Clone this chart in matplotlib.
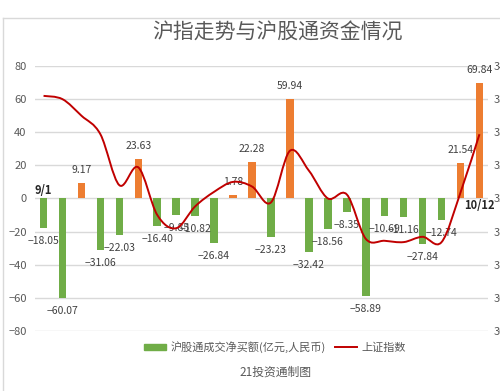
import matplotlib
matplotlib.use('Agg')
import matplotlib.pyplot as plt
import numpy as np
from matplotlib.path import Path
from matplotlib.patches import PathPatch, Patch
from matplotlib.lines import Line2D

plt.rcParams['font.family'] = ['Noto Sans CJK SC', 'DejaVu Sans']

# net buy of Shanghai connect, 100m CNY, 9/1 .. 10/12
flows = [-18.05, -60.07, 9.17, -31.06, -22.03, 23.63, -16.40, -9.85, -10.82,
         -26.84, 1.78, 22.28, -23.23, 59.94, -32.42, -18.56, -8.35, -58.89,
         -10.69, -11.16, -27.84, -12.74, 21.54, 69.84]
# Shanghai composite
sh_index = [3355, 3350, 3325, 3297, 3220, 3247, 3175, 3155, 3188, 3210,
            3225, 3218, 3194, 3272, 3242, 3200, 3206, 3139, 3136, 3134,
            3142, 3134, 3209, 3297]
first_day = '9/1'
last_day = '10/12'

GREEN = '#70AD47'
ORANGE = '#ED7D31'
RED = '#C00000'
GRID = '#D9D9D9'
TXT = '#595959'

fig = plt.figure(figsize=(5, 3.91), dpi=100)
ax = fig.add_axes([0.07, 0.154, 0.906, 0.677])

# chart frame
fig.add_artist(Line2D([3 / 500, 1], [1 - 18 / 391] * 2, color=GRID, lw=1))
fig.add_artist(Line2D([3 / 500] * 2, [0, 1 - 18 / 391], color=GRID, lw=1))

x = np.arange(len(flows))
colors = [ORANGE if v > 0 else GREEN for v in flows]
ax.bar(x, flows, 0.4, color=colors, zorder=2)

for xi, v in zip(x, flows):
    off = 13 if v > 0 else -13
    ax.annotate(f'{v:.2f}'.replace('-', '\u2212'), (xi, v), xytext=(0, off),
                textcoords='offset pixels', ha='center', va='center',
                fontsize=7.5, color='#404040', zorder=4)

ax.set_xlim(-0.45, len(flows) - 0.55)
ax.set_ylim(-80, 80)
ax.set_yticks(range(-80, 81, 20))
ax.set_yticklabels([str(t).replace('-', '\u2212') for t in range(-80, 81, 20)])
ax.set_xticks([])
ax.grid(axis='y', color=GRID, lw=1, zorder=0)
for s in ax.spines.values():
    s.set_visible(False)
ax.tick_params(axis='y', length=0, pad=6, labelsize=8, labelcolor=TXT)

ax.text(0, 4.5, first_day, ha='center', va='center', fontsize=8,
        fontweight='bold', color='#262626', zorder=5)
ax.text(len(flows) - 1, -4, last_day, ha='center', va='center', fontsize=8,
        fontweight='bold', color='#262626', zorder=5)

# secondary axis for the index, smoothed like the spreadsheet line
ax2 = ax.twinx()
ax2.set_ylim(3000, 3400)
ax2.set_yticks(range(3000, 3401, 50))
ax2.tick_params(axis='y', length=0, pad=4, labelsize=8, labelcolor=TXT)
for s in ax2.spines.values():
    s.set_visible(False)

pts = np.column_stack([x, sh_index]).astype(float)
ext = np.vstack([pts[0], pts, pts[-1]])
verts = [pts[0]]
codes = [Path.MOVETO]
for i in range(len(pts) - 1):
    p0, p1, p2, p3 = ext[i], ext[i + 1], ext[i + 2], ext[i + 3]
    verts += [p1 + (p2 - p0) / 6, p2 - (p3 - p1) / 6, p2]
    codes += [Path.CURVE4] * 3
ax2.add_patch(PathPatch(Path(verts, codes), fc='none', ec=RED, lw=1.4,
                        zorder=3))

fig.text(0.554, 1 - 33 / 391, '沪指走势与沪股通资金情况', ha='center',
         va='center', fontsize=15, color=TXT)

handles = [Patch(color=GREEN), Line2D([], [], color=RED, lw=1.4)]
fig.legend(handles, ['沪股通成交净买额(亿元,人民币)', '上证指数'],
           loc='center', bbox_to_anchor=(0.55, 1 - 347 / 391), ncol=2,
           frameon=False, fontsize=8, handlelength=2.0, handleheight=0.5,
           columnspacing=0.8, handletextpad=0.4, labelcolor=TXT)

fig.text(0.55, 1 - 372 / 391, '21投资通制图', ha='center', va='center',
         fontsize=8.5, color=TXT)

fig.savefig('out.png', dpi=100)
